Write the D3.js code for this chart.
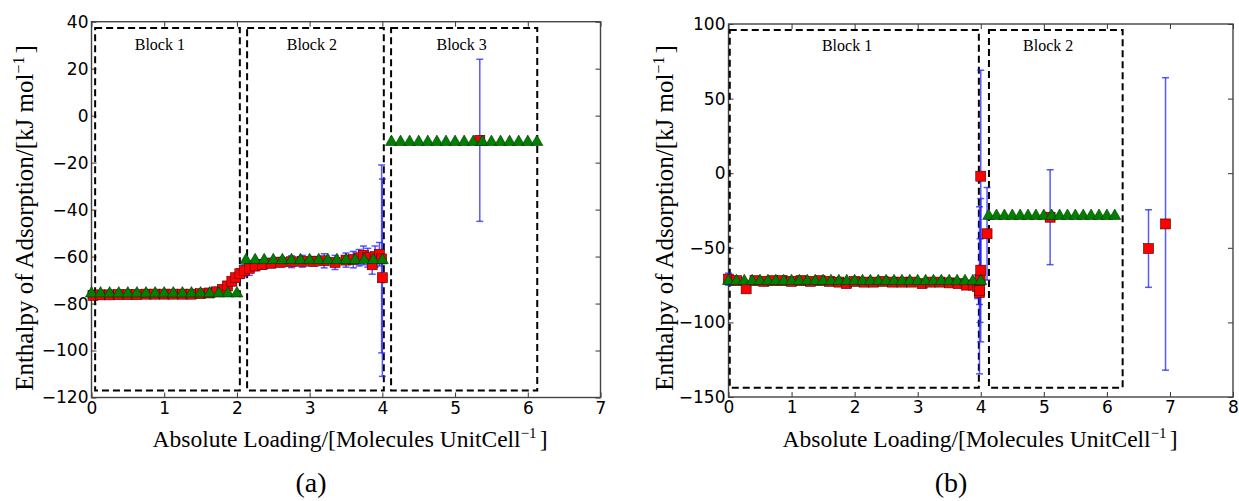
<!DOCTYPE html>
<html>
<head>
<meta charset="utf-8">
<script src="https://cdn.jsdelivr.net/npm/d3@7"></script>
<style>
  body { margin: 0; background: #fff; }
  svg { display: block; }
  .tick text { font-family: "DejaVu Sans", sans-serif; font-size: 17px; fill: #000; }
  .tick line { stroke: #333; stroke-width: 1; }
  .lbl { font-family: "Liberation Serif", "DejaVu Serif", serif; fill: #000; }
</style>
</head>
<body>
<div id="graf"></div>
<script>
// ---------- Data: panel (a) ----------
const aTriX = [0, 0.125, 0.25, 0.375, 0.5, 0.625, 0.75, 0.875, 1.0, 1.125, 1.25, 1.375, 1.5, 1.625, 1.75, 1.875, 2.0,
  2.125, 2.25, 2.375, 2.5, 2.625, 2.75, 2.875, 3.0, 3.125, 3.25, 3.375, 3.5, 3.625, 3.75, 3.875, 4.0,
  4.125, 4.25, 4.375, 4.5, 4.625, 4.75, 4.875, 5.0, 5.125, 5.25, 5.375, 5.5, 5.625, 5.75, 5.875, 6.0, 6.125]
const aTriY = [-75.5, -75.5, -75.5, -75.5, -75.5, -75.5, -75.5, -75.5, -75.5, -75.5, -75.5, -75.5, -75.5, -75.5, -75.5, -75.5, -75.5,
  -61.3, -61.3, -61.3, -61.3, -61.3, -61.3, -61.3, -61.3, -61.3, -61.3, -61.3, -61.3, -61.3, -61.3, -61.3, -61.3,
  -11, -11, -11, -11, -11, -11, -11, -11, -11, -11, -11, -11, -11, -11, -11, -11, -11]

const aSqX = [0.02, 0.12, 0.25, 0.37, 0.5, 0.62, 0.75, 0.87, 1.0, 1.12, 1.25, 1.37, 1.5, 1.62, 1.72, 1.8, 1.87, 1.93, 1.98,
  2.04, 2.1, 2.17, 2.25, 2.35, 2.47, 2.6, 2.75, 2.9, 3.05, 3.2, 3.35, 3.5, 3.6, 3.68, 3.74, 3.8, 3.86, 3.9, 3.96, 4.0, 3.99, 5.34]
const aSqY = [-76.5, -76.3, -76.3, -76.2, -76.2, -76.2, -76, -76, -76, -76, -76, -76, -75.8, -75.5, -75, -74, -72.5, -70.5, -69,
  -67.3, -66, -65, -64, -63.4, -62.8, -62.4, -62.2, -62, -62, -61.8, -62.5, -61.5, -61.3, -60.5, -59.5, -60.5, -63.5, -60, -59, -69, -61, -10.5]
const aSqErr = [0.5, 0.5, 0.5, 0.5, 0.5, 0.5, 0.5, 0.5, 0.5, 0.5, 0.5, 0.5, 0.6, 0.6, 0.8, 1, 1, 1.2, 1.5,
  2, 2.5, 3, 2, 2, 2, 2, 2.5, 2.5, 2, 3, 3, 3, 3.5, 3.5, 4, 4, 4, 4.5, 5, 42, 40, 34.5]

const aBlocks = [
  { x0: 0.05, x1: 2.04, y0: -117, y1: 37.3, label: "Block 1", lx: 0.94, ly: 28 },
  { x0: 2.14, x1: 4.02, y0: -117, y1: 37.3, label: "Block 2", lx: 3.03, ly: 28 },
  { x0: 4.12, x1: 6.13, y0: -117, y1: 37.3, label: "Block 3", lx: 5.09, ly: 28 }
]
const aXTicks = [0, 1, 2, 3, 4, 5, 6, 7]
const aYTicks = [40, 20, 0, -20, -40, -60, -80, -100, -120]

// ---------- Data: panel (b) ----------
const bTriX = [0, 0.125, 0.25, 0.375, 0.5, 0.625, 0.75, 0.875, 1.0, 1.125, 1.25, 1.375, 1.5, 1.625, 1.75, 1.875, 2.0,
  2.125, 2.25, 2.375, 2.5, 2.625, 2.75, 2.875, 3.0, 3.125, 3.25, 3.375, 3.5, 3.625, 3.75, 3.875, 4.0,
  4.125, 4.25, 4.375, 4.5, 4.625, 4.75, 4.875, 5.0, 5.125, 5.25, 5.375, 5.5, 5.625, 5.75, 5.875, 6.0, 6.125]
const bTriY = [-72, -72, -72, -72, -72, -72, -72, -72, -72, -72, -72, -72, -72, -72, -72, -72, -72,
  -72, -72, -72, -72, -72, -72, -72, -72, -72, -72, -72, -72, -72, -72, -72, -72,
  -28.3, -28.3, -28.3, -28.3, -28.3, -28.3, -28.3, -28.3, -28.3, -28.3, -28.3, -28.3, -28.3, -28.3, -28.3, -28.3, -28.3]

const bSqX = [0.0, 0.13, 0.28, 0.42, 0.56, 0.7, 0.85, 1.0, 1.15, 1.3, 1.45, 1.6, 1.75, 1.87, 2.0, 2.15, 2.3, 2.45, 2.6, 2.75,
  2.9, 3.07, 3.2, 3.35, 3.5, 3.64, 3.77, 3.88, 3.95, 3.98, 4.0, 4.0, 3.99, 3.98, 4.1, 5.1, 6.66, 6.93]
const bSqY = [-71, -72, -77.5, -72, -72.5, -72, -72, -72.5, -72, -72.5, -72, -72.5, -73, -74, -72.5, -73, -73, -72.5, -73, -73,
  -73, -74, -73, -73, -73.5, -74, -75, -75, -76, -80, -2, -65, -72, -78.5, -40.6, -29.5, -50.5, -34]
const bSqErr = [4, 1, 1, 1, 1, 1, 1, 1, 1, 1, 1, 1, 1, 1, 1, 1, 1, 1, 1, 1,
  1, 1, 1, 1, 1.5, 1.5, 2, 2, 8, 8, 71, 48, 28, 56, 31, 31.8, 26, 98]

const bBlocks = [
  { x0: 0.02, x1: 3.97, y0: -143.8, y1: 96, label: "Block 1", lx: 1.88, ly: 82 },
  { x0: 4.13, x1: 6.25, y0: -143.8, y1: 96, label: "Block 2", lx: 5.07, ly: 82 }
]
const bXTicks = [0, 1, 2, 3, 4, 5, 6, 7, 8]
const bYTicks = [100, 50, 0, -50, -100, -150]

const fmt = (d) => String(d).replace("-", "\u2212")

const svg = d3.select("#graf").append("svg").attr("width", 1239).attr("height", 501)

function panel(cfg) {
  const x = d3.scaleLinear().domain(cfg.xDom).range(cfg.xr)
  const y = d3.scaleLinear().domain(cfg.yDom).range(cfg.yr)
  const g = svg.append("g")

  // ejes
  g.append("g").attr("transform", `translate(0, ${cfg.yr[0]})`)
    .call(d3.axisBottom(x).tickValues(cfg.xTicks).tickSize(-5).tickPadding(4).tickFormat(fmt))
  g.append("g").attr("transform", `translate(0, ${cfg.yr[1]})`)
    .call(d3.axisTop(x).tickValues(cfg.xTicks).tickSize(-5).tickFormat(""))
  g.append("g").attr("transform", `translate(${cfg.xr[0]}, 0)`)
    .call(d3.axisLeft(y).tickValues(cfg.yTicks).tickSize(-5).tickPadding(3).tickFormat(fmt))
  g.append("g").attr("transform", `translate(${cfg.xr[1]}, 0)`)
    .call(d3.axisRight(y).tickValues(cfg.yTicks).tickSize(-5).tickFormat(""))
  g.selectAll(".domain").remove()

  g.append("rect")
    .attr("x", cfg.xr[0]).attr("y", cfg.yr[1])
    .attr("width", cfg.xr[1] - cfg.xr[0]).attr("height", cfg.yr[0] - cfg.yr[1])
    .attr("fill", "none").attr("stroke", "#444").attr("stroke-width", 1.4)

  // bloques
  g.selectAll(".blk").data(cfg.blocks).join("rect")
    .attr("class", "blk")
    .attr("x", (d) => x(d.x0)).attr("y", (d) => y(d.y1))
    .attr("width", (d) => x(d.x1) - x(d.x0)).attr("height", (d) => y(d.y0) - y(d.y1))
    .attr("fill", "none").attr("stroke", "#000").attr("stroke-width", 2)
    .attr("stroke-dasharray", "7,4")
  g.selectAll(".blkt").data(cfg.blocks).join("text")
    .attr("class", "lbl blkt")
    .attr("x", (d) => x(d.lx)).attr("y", (d) => y(d.ly))
    .attr("text-anchor", "middle").attr("font-size", 16)
    .text((d) => d.label)

  const sq = cfg.sqX.map((v, i) => ({ x: v, y: cfg.sqY[i], e: cfg.sqErr[i] }))
  const tri = cfg.triX.map((v, i) => ({ x: v, y: cfg.triY[i] }))

  // barras de error
  const eb = g.append("g").attr("stroke", "#2222ff").attr("stroke-opacity", 0.75).attr("stroke-width", 1.5)
  sq.forEach((d) => {
    eb.append("line").attr("x1", x(d.x)).attr("x2", x(d.x)).attr("y1", y(d.y - d.e)).attr("y2", y(d.y + d.e))
    ;[d.y - d.e, d.y + d.e].forEach((v) => {
      eb.append("line").attr("x1", x(d.x) - 3.5).attr("x2", x(d.x) + 3.5).attr("y1", y(v)).attr("y2", y(v))
    })
  })

  g.selectAll(".sq").data(sq).join("rect")
    .attr("class", "sq")
    .attr("x", (d) => x(d.x) - 5).attr("y", (d) => y(d.y) - 5)
    .attr("width", 10).attr("height", 10)
    .attr("fill", "#ff0000").attr("stroke", "#400").attr("stroke-width", 0.6)

  g.selectAll(".tri").data(tri).join("path")
    .attr("class", "tri")
    .attr("d", d3.symbol().type(d3.symbolTriangle).size(62))
    .attr("transform", (d) => `translate(${x(d.x)}, ${y(d.y) + 0.5})`)
    .attr("fill", "#008000").attr("stroke", "#030").attr("stroke-width", 0.6)

  // etiquetas
  const xl = g.append("text").attr("class", "lbl")
    .attr("x", cfg.xLabelX).attr("y", 447).attr("text-anchor", "middle").attr("font-size", 23.5)
  xl.append("tspan").text("Absolute Loading/[Molecules UnitCell")
  xl.append("tspan").attr("dy", -9).attr("font-size", 15).text("\u22121")
  xl.append("tspan").attr("dx", 3).attr("dy", 9).text("]")

  const yl = g.append("text").attr("class", "lbl")
    .attr("transform", `translate(${cfg.yLabelX}, 218) rotate(-90)`)
    .attr("text-anchor", "middle").attr("font-size", 25)
  yl.append("tspan").text("Enthalpy of Adsorption/[kJ mol")
  yl.append("tspan").attr("dy", -9).attr("font-size", 16).text("\u22121")
  yl.append("tspan").attr("dx", 3).attr("dy", 9).text("]")

  g.append("text").attr("class", "lbl")
    .attr("x", cfg.capX).attr("y", 492).attr("text-anchor", "middle").attr("font-size", 28)
    .text(cfg.cap)
}

panel({
  xDom: [0, 7], xr: [91.5, 600.5], yDom: [-120, 40], yr: [397.5, 21.7],
  xTicks: aXTicks, yTicks: aYTicks, blocks: aBlocks,
  sqX: aSqX, sqY: aSqY, sqErr: aSqErr, triX: aTriX, triY: aTriY,
  xLabelX: 350, yLabelX: 33, capX: 311, cap: "(a)"
})

panel({
  xDom: [0, 8], xr: [728.5, 1233], yDom: [-150, 100], yr: [397, 24],
  xTicks: bXTicks, yTicks: bYTicks, blocks: bBlocks,
  sqX: bSqX, sqY: bSqY, sqErr: bSqErr, triX: bTriX, triY: bTriY,
  xLabelX: 980, yLabelX: 673, capX: 951, cap: "(b)"
})
</script>
</body>
</html>
